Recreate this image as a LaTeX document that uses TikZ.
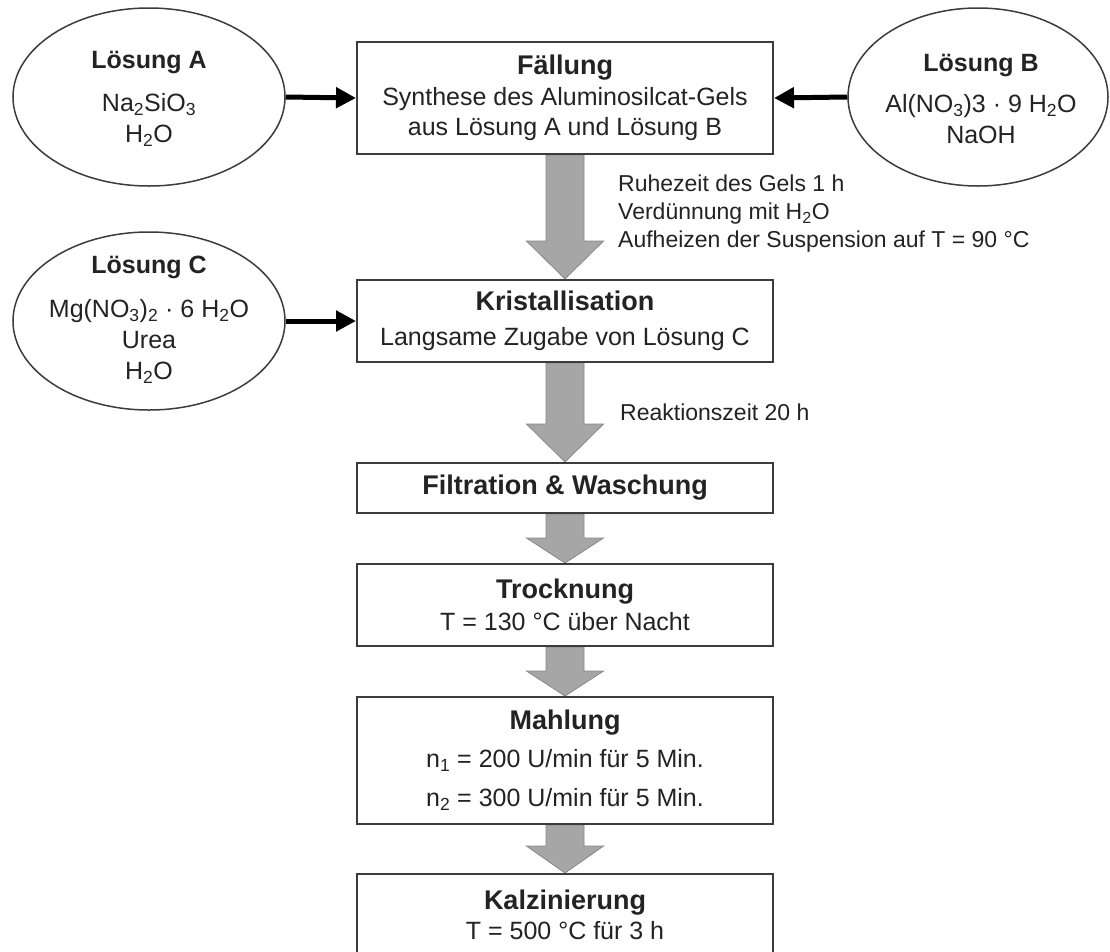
\documentclass[tikz,border=0pt]{standalone}
\usepackage{fontspec}
\setmainfont{Liberation Sans}
\usetikzlibrary{arrows.meta,calc,shapes.geometric}
\definecolor{boxline}{RGB}{60,60,60}
\definecolor{txt}{RGB}{35,35,35}
\definecolor{flowgray}{RGB}{166,166,166}
\definecolor{flowedge}{RGB}{135,135,135}
\pgfdeclarelayer{bg}
\pgfsetlayers{bg,main}
\newcommand{\steptitle}[1]{{\fontsize{27}{30}\selectfont\bfseries #1}}
\newcommand{\soltitle}[1]{{\fontsize{25}{31}\selectfont\bfseries #1}}
% #1 from node, #2 to node, #3 head length
\newcommand{\flowarrow}[3]{%
  \filldraw[flowfill] ($(#1.south)+(-19,0)$) -- ($(#2.north)+(-19,-#3)$) -- ($(#2.north)+(-38.5,-#3)$) -- (#2.north) -- ($(#2.north)+(38.5,-#3)$) -- ($(#2.north)+(19,-#3)$) -- ($(#1.south)+(19,0)$) -- cycle;}
\tikzset{
  stepbox/.style={draw=boxline, line width=2pt, fill=white, minimum width=416pt, inner sep=0pt, align=center, text=txt, font=\fontsize{25}{30}\selectfont},
  sol/.style={ellipse, draw=boxline, line width=1.5pt, minimum height=178pt, inner sep=0pt},
  soltext/.style={align=center, text=txt, font=\fontsize{25}{31}\selectfont},
  feed/.style={line width=5pt, draw=black, -{Triangle[length=20pt,width=20pt]}},
  note/.style={anchor=west, align=left, text=txt, inner sep=0pt, font=\fontsize{23}{28}\selectfont},
  flowfill/.style={fill=flowgray, draw=flowedge, line width=0.8pt, line join=miter},
}
\begin{document}
\begin{tikzpicture}[x=1pt,y=-1pt]
\useasboundingbox (0,0) rectangle (1110,951);
\begin{pgfonlayer}{bg}
\fill[white] (0,0) rectangle (1110,951);
\end{pgfonlayer}

% process boxes
\node[stepbox, minimum height=112pt] (F) at (565,98) {\steptitle{Fällung}\\[1pt] Synthese des Aluminosilcat-Gels\\ aus Lösung A und Lösung B};
\node[stepbox, minimum height=82pt] (K) at (565,321) {\steptitle{Kristallisation}\\[5pt] Langsame Zugabe von Lösung C};
\node[stepbox, minimum height=50pt] (W) at (565,488) {\steptitle{Filtration \& Waschung}};
\node[stepbox, minimum height=82pt] (T) at (565,605) {\steptitle{Trocknung}\\[2pt] T = 130 °C über Nacht};
\node[stepbox, minimum height=127pt] (M) at (565,760.5) {\steptitle{Mahlung}\\[8pt] n\textsubscript{1} = 200 U/min für 5 Min.\\[9pt] n\textsubscript{2} = 300 U/min für 5 Min.};
\node[stepbox, minimum height=82pt] (Z) at (565,915) {\steptitle{Kalzinierung}\\ T = 500 °C für 3 h};

% solutions
\node[sol, minimum width=272pt] (A) at (149,97) {};
\node[soltext] (At) at (149,99) {\soltitle{Lösung A}\\[12pt] Na\textsubscript{2}SiO\textsubscript{3}\\ H\textsubscript{2}O};
\node[sol, minimum width=260pt] (B) at (978,97) {};
\node[soltext] (Bt) at (981,99) {\soltitle{Lösung B}\\[10pt] Al(NO\textsubscript{3})3 · 9 H\textsubscript{2}O\\ NaOH};
\node[sol, minimum width=272pt] (C) at (149,321) {};
\node[soltext] (Ct) at (149,320) {\soltitle{Lösung C}\\[13pt] Mg(NO\textsubscript{3})\textsubscript{2} · 6 H\textsubscript{2}O\\ Urea\\ H\textsubscript{2}O};

% feed arrows
\draw[feed] (A.east) -- (F.west);
\draw[feed] (B.west) -- (F.east);
\draw[feed] (C.east) -- (K.west);

% flow arrows
\begin{pgfonlayer}{bg}
\flowarrow{F}{K}{38}
\flowarrow{K}{W}{38}
\flowarrow{W}{T}{25}
\flowarrow{T}{M}{25}
\flowarrow{M}{Z}{27}
\end{pgfonlayer}

% notes
\node[note] (n1) at (618,214) {Ruhezeit des Gels 1 h\\ Verdünnung mit H\textsubscript{2}O\\ Aufheizen der Suspension auf T = 90 °C};
\node[note] (n2) at (620,412) {Reaktionszeit 20 h};
\end{tikzpicture}
\end{document}
